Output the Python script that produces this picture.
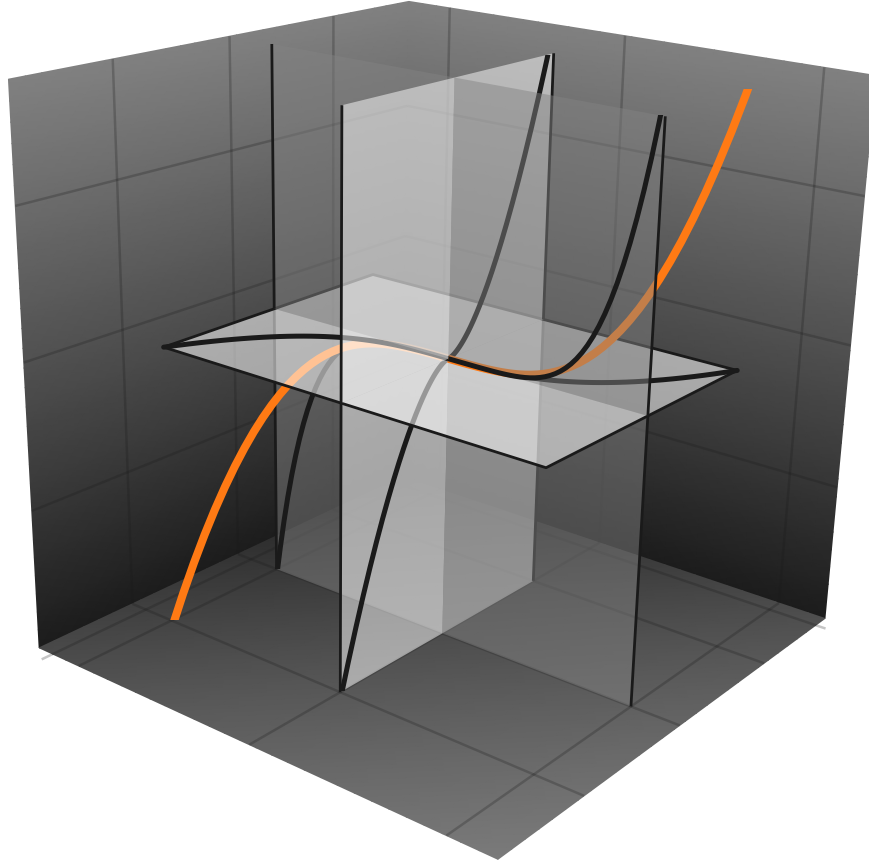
import numpy as np, matplotlib
matplotlib.use('Agg')
import matplotlib.pyplot as plt, seaborn as sns
from matplotlib.patches import Rectangle

# --- data: curve samples (non-negative half, mirrored below) ---
T_POS=[0,.025,.05,.075,.1,.125,.15,.175,.2,.225,.25,.275,.3,.325,.35,.375,.4,.425,.45,.475,.5,.525,.55,.575,.6,.625,.65,.675,.7,.725,.75,.775,.8,.825,.85,.875,.9,.925,.95,.975,1,1.025,1.05]
C_POS=[0,.000016,.000125,.000422,.001,.001953,.003375,.005359,.008,.011391,.015625,.020797,.027,.034328,.042875,.052734,.064,.076766,.091125,.107172,.125,.144703,.166375,.190109,.216,.244141,.274625,.307547,.343,.381078,.421875,.465484,.512,.561516,.614125,.669922,.729,.791453,.857375,.926859,1,1.076891,1.157625]
Q_POS=[0,0,0,.000002,.00001,.000031,.000076,.000164,.00032,.000577,.000977,.001573,.00243,.003626,.005252,.007416,.01024,.013866,.018453,.024181,.03125,.039884,.050328,.062855,.07776,.095367,.116029,.140126,.16807,.200306,.237305,.279581,.32768,.382182,.443705,.512909,.59049,.677187,.773781,.881096,1,1.131408,1.276282]
TICKS=[-1,0,1]
Z_TICKS=[-.5,0,.5]
T_POS,C_POS,Q_POS=map(np.array,(T_POS,C_POS,Q_POS))
N_PLANE=41   # samples up to t = 1, the edge of the horizontal plane

# scene extents and camera
U0,U1,V0,V1,Z0,Z1=-1.252,1.238,-1.799,1.802,-.986,.885
Z_MID=-.015
CAMERA=np.array([[155.6652,128.0677,-17.32734,448.4624],
                 [28.94085,-19.9135,-316.816,355.2503],
                 [-.0678912,.06064003,-.05320415,1.0]])

def proj(u,v,w):
    u,v,w=np.broadcast_arrays(np.asarray(u,float),np.asarray(v,float),np.asarray(w,float))
    h=CAMERA@np.stack([u.ravel(),v.ravel(),w.ravel(),np.ones(u.size)])
    return (h[0]/h[2]).reshape(u.shape),(h[1]/h[2]).reshape(u.shape)

sns.set_theme(style='white')
fig=plt.figure(figsize=(8.7,8.62),dpi=100)
ax=fig.add_axes([0,0,1,1]); ax.set_xlim(0,870); ax.set_ylim(862,0); ax.axis('off'); ax.set_autoscale_on(False)
Z=[0]
def nz():
    Z[0]+=1; return Z[0]
def line3(u,v,w,color,lw,alpha=1,cap='butt'):
    x,y=proj(u,v,w)
    sns.lineplot(x=x,y=y,sort=False,estimator=None,color=color,linewidth=lw,alpha=alpha,ax=ax,legend=False,solid_capstyle=cap,zorder=nz())
    return ax.lines[-1]
def mesh(U,V,W,C):
    X,Y=proj(U,V,W); ax.pcolormesh(X,Y,C,cmap='gray',vmin=0,vmax=255,shading='gouraud',zorder=nz())
def quad(u,v,w,color,a):
    x,y=proj(u,v,w); ax.fill(x,y,color=color,alpha=a,lw=0,zorder=nz())

s=np.linspace(0,1,30); S,Tt=np.meshgrid(s,s)
zz=Z0+(Z1-Z0)*Tt
wallc=0x1c+(0x80-0x1c)*Tt
mesh(U0+0*S,V0+(V1-V0)*S,zz,wallc)
mesh(U0+(U1-U0)*S,V1+0*S,zz,wallc)
UF=U0+(U1-U0)*S; VF=V0+(V1-V0)*Tt
mesh(UF,VF,Z0+0*S,76+20*UF-12*VF)

GC='k'; GA=.25; GW=1.8
for t in TICKS:
    line3([U0,U0],[t,t],[Z0,Z1],GC,GW,GA); line3([t,t],[V1,V1],[Z0,Z1],GC,GW,GA)
    line3([U0,U1],[t,t],[Z0,Z0],GC,GW,GA); line3([t,t],[V0,V1],[Z0,Z0],GC,GW,GA)
for t in Z_TICKS:
    line3([U0,U0],[V0,V1],[t,t],GC,GW,GA); line3([U0,U1],[V1,V1],[t,t],GC,GW,GA)
UE=U0*.93; VE=V1*.93
line3([UE,UE],[V0*1.05,V1],[Z0,Z0],GC,GW,GA); line3([U0,U1*1.04],[VE,VE],[Z0,Z0],GC,GW,GA)

ORANGE='#ff7a14'; DARK='#1a1a1a'; OW=5.8; CW=3.6; EW=2.0
def zl(ws): return Z1 if ws>0 else Z0
def clip(line,uvw,ws):
    ye=float(proj(*uvw)[1])
    r=Rectangle((-50,ye),1000,2000,transform=ax.transData) if ws>0 else Rectangle((-50,ye-2000),1000,2000,transform=ax.transData)
    line.set_clip_path(r)
def tend(ws): return float(np.interp(abs(zl(ws)-Z_MID),Q_POS,T_POS))
def cend(ws): return float(np.interp(tend(ws),T_POS,C_POS))
for ws in (-1,1):
    for us in (-1,1):
        for vs in (1,-1):
            if us==vs==ws:
                clip(line3(us*T_POS,us*C_POS,Z_MID+us*Q_POS,ORANGE,OW),(us*tend(ws),us*cend(ws),zl(ws)),ws)
            if vs==1:
                quad([0,us,us,0],[0,0,0,0],[Z_MID,Z_MID,zl(ws),zl(ws)],'#838383',.48)
                if us==ws:
                    clip(line3(us*T_POS,0*T_POS,Z_MID+us*Q_POS,DARK,CW),(us*tend(ws),0,zl(ws)),ws)
                line3([us,us],[0,0],[Z_MID,zl(ws)],'k',EW)
        if us==-1:
            for vs in (1,-1):
                quad([0,0,0,0],[0,vs,vs,0],[Z_MID,Z_MID,zl(ws),zl(ws)],'white',.5)
                if vs==ws:
                    clip(line3(0*T_POS,vs*C_POS,Z_MID+vs*Q_POS,DARK,CW),(0,vs*cend(ws),zl(ws)),ws)
                line3([0,0],[vs,vs],[Z_MID,zl(ws)],'k',EW)
    if ws==-1:
        quad([-1,1,1,-1],[-1,-1,1,1],[Z_MID]*4,'white',.55)
        for sg in (1,-1):
            line3(sg*T_POS[:N_PLANE],sg*C_POS[:N_PLANE],Z_MID+0*T_POS[:N_PLANE],DARK,CW,cap='round')
        line3([-1,1,1,-1,-1],[-1,-1,1,1,-1],[Z_MID]*5,'k',EW)
ax.set_xlim(0,870); ax.set_ylim(862,0)
fig.savefig('out.png')
